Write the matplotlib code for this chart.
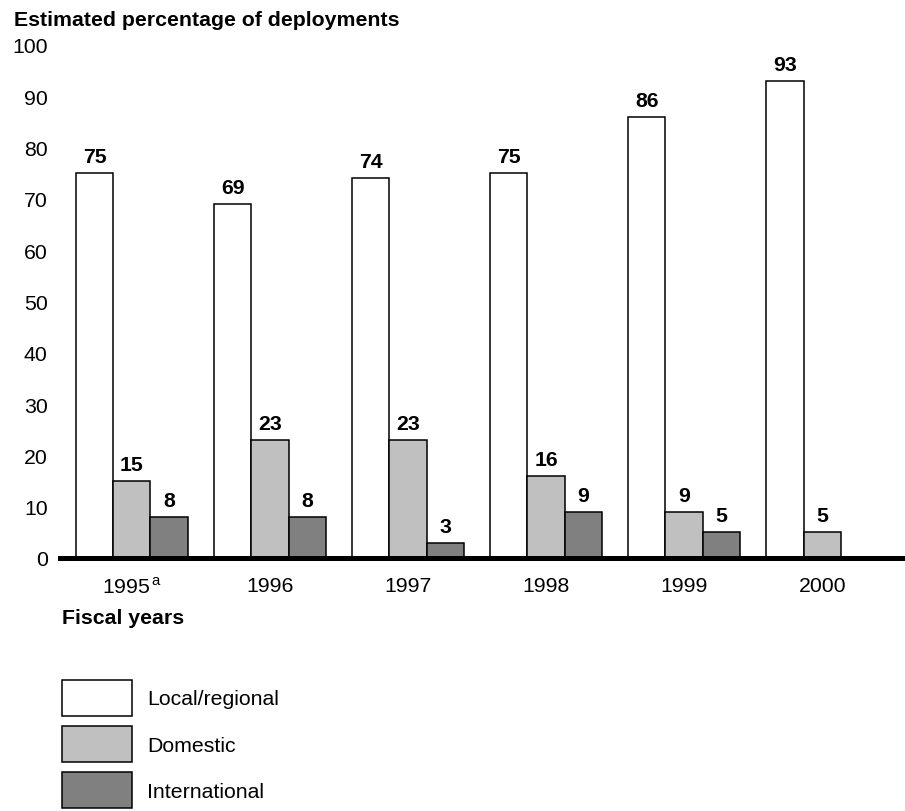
import numpy as np
import matplotlib.pyplot as plt

plt.rcParams['font.family'] = ['Liberation Sans', 'DejaVu Sans']
plt.rcParams['mathtext.fontset'] = 'custom'
plt.rcParams['mathtext.rm'] = 'Liberation Sans'

years = ['1995$^{\\,\\rm a}$', '1996', '1997', '1998', '1999', '2000']
local_regional = [75, 69, 74, 75, 86, 93]
domestic = [15, 23, 23, 16, 9, 5]
international = [8, 8, 3, 9, 5, np.nan]
series_names = ['Local/regional', 'Domestic', 'International']
series_colors = ['white', '#c0c0c0', '#808080']

fs = 15.3
fig = plt.figure(figsize=(9.05, 8.12), dpi=100)
ax = fig.add_axes([60 / 905, 1 - 559 / 812, 1 - 60 / 905, (559 - 46) / 812])

x = np.arange(len(years))
w = 0.27
handles = []
for i, (vals, name, col) in enumerate(zip([local_regional, domestic, international],
                                         series_names, series_colors)):
    bars = ax.bar(x + (i - 1) * w, vals, w, color=col, edgecolor='black',
                  linewidth=1.1, label=name, zorder=2)
    handles.append(bars)
    for xi, v in zip(x + (i - 1) * w, vals):
        if np.isnan(v):
            continue
        ax.annotate(f'{v:g}', (xi, v), xytext=(0, 5), textcoords='offset points',
                    ha='center', va='bottom', fontsize=fs, fontweight='bold')

ax.set_ylim(0, 100)
ax.set_xlim(-0.52, 5.6)
ax.set_yticks(range(0, 101, 10))
ax.set_xticks(x)
ax.set_xticklabels(years)
ax.tick_params(axis='both', length=0, labelsize=fs)
ax.tick_params(axis='y', pad=9)
ax.tick_params(axis='x', pad=13)
for s in ['left', 'right', 'top']:
    ax.spines[s].set_visible(False)
ax.spines['bottom'].set_linewidth(3.6)
ax.spines['bottom'].set_zorder(3)

fig.text(14 / 905, 1 - 20 / 812, 'Estimated percentage of deployments',
         fontsize=fs, fontweight='bold', va='center', ha='left')
fig.text(62 / 905, 1 - 619 / 812, 'Fiscal years',
         fontsize=fs, fontweight='bold', va='center', ha='left')

fig.legend(handles=handles, labels=series_names, loc='upper left',
           bbox_to_anchor=(62 / 905, 1 - 681 / 812), frameon=False,
           fontsize=fs, handlelength=3.3, handleheight=2.2, borderpad=0,
           labelspacing=0.5, handletextpad=0.7, borderaxespad=0)

fig.savefig('out.png', dpi=100)
